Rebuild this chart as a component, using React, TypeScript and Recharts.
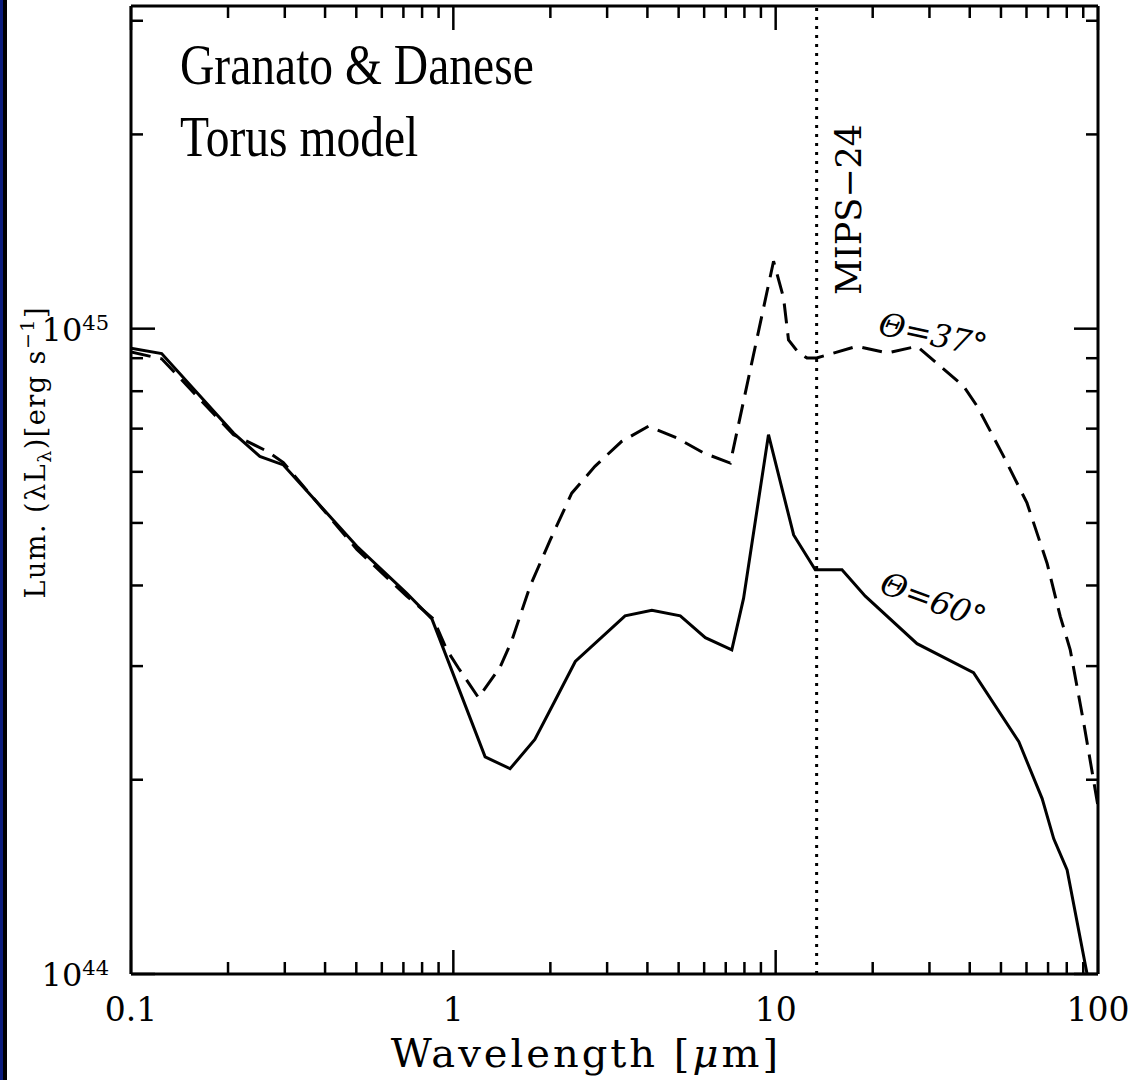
import React from 'react';
import { LineChart, Line, XAxis, YAxis, ReferenceLine, Label } from 'recharts';

// wavelength [micron] and luminosity (lambda L_lambda) in units of 1e44 erg/s
const wave60 = [0.1, 0.1245, 0.208, 0.251, 0.297, 0.502, 0.717, 0.858, 1.255, 1.5, 1.79, 2.05, 2.39, 3.41, 4.13, 5.06, 6.05, 7.31, 7.95, 9.5, 11.37, 13.27, 16.06, 18.97, 27.45, 41.1, 56.8, 67.1, 72.9, 80.2, 92.5];
const lum60 = [9.33, 9.15, 6.89, 6.34, 6.15, 4.6, 3.89, 3.55, 2.17, 2.08, 2.31, 2.63, 3.05, 3.59, 3.66, 3.59, 3.32, 3.18, 3.82, 6.85, 4.79, 4.23, 4.23, 3.85, 3.25, 2.93, 2.29, 1.87, 1.62, 1.45, 1.0];

const wave37 = [0.1, 0.1245, 0.208, 0.264, 0.297, 0.502, 0.717, 0.867, 0.954, 1.037, 1.197, 1.397, 1.52, 1.73, 2.0, 2.33, 2.75, 3.33, 4.03, 4.94, 5.97, 7.23, 9.85, 10.58, 10.96, 11.78, 12.5, 13.4, 17.88, 22.15, 27.45, 38.3, 42.2, 50.96, 60.2, 69.5, 76.4, 82.0, 90.3, 100];
const lum37 = [9.2, 8.98, 6.85, 6.46, 6.2, 4.55, 3.85, 3.55, 3.18, 2.98, 2.68, 2.99, 3.29, 3.99, 4.71, 5.56, 6.12, 6.69, 7.06, 6.77, 6.42, 6.19, 12.72, 11.16, 9.61, 9.17, 9.01, 9.01, 9.39, 9.17, 9.39, 8.14, 7.58, 6.34, 5.37, 4.33, 3.58, 3.18, 2.45, 1.82];

const xTicks = [0.1, 0.2, 0.3, 0.4, 0.5, 0.6, 0.7, 0.8, 0.9, 1, 2, 3, 4, 5, 6, 7, 8, 9, 10, 20, 30, 40, 50, 60, 70, 80, 90, 100];
const xMajor = [0.1, 1, 10, 100];
const xLabels = ['0.1', '1', '10', '100'];
const yTicks = [1, 2, 3, 4, 5, 6, 7, 8, 9, 10, 20, 30];
const yMajor = [1, 10];
const yExp = ['44', '45'];
const mipsWave = 13.4;

const pts60 = wave60.map((x, i) => ({ x, y: lum60[i] }));
const pts37 = wave37.map((x, i) => ({ x, y: lum37[i] }));

const serif = '"DejaVu Serif", serif';

const BottomTick = (p: any) => {
  const i = xMajor.indexOf(p.payload.value);
  if (i < 0) return <g />;
  return (
    <text x={p.x} y={p.y + 47} textAnchor="middle" fontFamily={serif} fontSize={33} fill="#000">
      {xLabels[i]}
    </text>
  );
};

// inward tick marks on the bottom and top frame, drawn at the reference line's x
const frameTickShape = (len: number) => (s: any) => {
  const top = Math.min(s.y1, s.y2);
  const bot = Math.max(s.y1, s.y2);
  return (
    <g>
      <line x1={s.x1} x2={s.x1} y1={bot} y2={bot - len} stroke="#000" strokeWidth={2.5} />
      <line x1={s.x1} x2={s.x1} y1={top} y2={top + len} stroke="#000" strokeWidth={2.5} />
    </g>
  );
};

const LeftTick = (p: any) => {
  const i = yMajor.indexOf(p.payload.value);
  return (
    <g>
      <line x1={p.x} x2={p.x + (i >= 0 ? 24 : 12)} y1={p.y} y2={p.y} stroke="#000" strokeWidth={2.5} />
      {i >= 0 && (
        <text x={p.x - 22} y={p.y + 12} textAnchor="end" fontFamily={serif} fontSize={32} fill="#000">
          10<tspan fontSize={21} dy={-11}>{yExp[i]}</tspan>
        </text>
      )}
    </g>
  );
};

const RightTick = (p: any) => {
  const major = yMajor.includes(p.payload.value);
  return <line x1={p.x} x2={p.x - (major ? 24 : 12)} y1={p.y} y2={p.y} stroke="#000" strokeWidth={2.5} />;
};

const frame = { stroke: '#000', strokeWidth: 3 };

export default function App() {
  return (
    <div style={{ position: 'absolute', left: 0, top: 0, width: 1131, height: 1080, background: '#fff', overflow: 'hidden' }}>
      <div style={{ position: 'absolute', left: 0, top: 0, width: 3, height: 1080, background: '#0b1c7c' }} />
      <div style={{ position: 'absolute', left: 3, top: 0, width: 4, height: 1080, background: '#000' }} />
      <LineChart width={1131} height={1080} margin={{ top: 0, right: 0, bottom: 0, left: 0 }}>
        <XAxis
          xAxisId="b" orientation="bottom" dataKey="x" type="number" scale="log" domain={[0.1, 100]}
          ticks={xTicks} interval={0} tick={<BottomTick />} tickLine={false} tickSize={0} tickMargin={0}
          axisLine={frame} height={106} allowDataOverflow
        >
          <Label
            content={(props: any) => {
              const vb = props.viewBox;
              return (
                <text x={vb.x + 650} y={vb.y + 93} textAnchor="end" fontFamily={serif} fontSize={40} letterSpacing={3} fill="#000">
                  Wavelength [<tspan fontStyle="italic">μ</tspan>m]
                </text>
              );
            }}
          />
        </XAxis>
        <XAxis
          xAxisId="t" orientation="top" dataKey="x" type="number" scale="log" domain={[0.1, 100]}
          tick={false} tickLine={false} axisLine={frame} height={6} allowDataOverflow
        />
        <YAxis
          yAxisId="l" orientation="left" type="number" scale="log" domain={[1, 31.623]}
          ticks={yTicks} interval={0} tick={<LeftTick />} tickLine={false} tickSize={0} tickMargin={0}
          axisLine={frame} width={131} allowDataOverflow
        >
          <Label
            content={() => (
              <text x={45} y={306} transform="rotate(-90 45 306)" textAnchor="end" fontFamily={serif} fontSize={27} letterSpacing={1.5} fill="#000">
                Lum. (λL<tspan fontSize={19} dy={6}>λ</tspan>
                <tspan dy={-6}>)[erg s</tspan>
                <tspan fontSize={19} dy={-11}>−1</tspan>
                <tspan dy={11}>]</tspan>
              </text>
            )}
          />
        </YAxis>
        <YAxis
          yAxisId="r" orientation="right" type="number" scale="log" domain={[1, 31.623]}
          ticks={yTicks} interval={0} tick={<RightTick />} tickLine={false} tickSize={0} tickMargin={0}
          axisLine={frame} width={33} allowDataOverflow
        />
        {xTicks.map((v) => (
          <ReferenceLine
            key={`xt-${v}`} xAxisId="b" yAxisId="l" x={v} stroke="#000"
            shape={frameTickShape(xMajor.includes(v) ? 24 : 12)}
          />
        ))}
        <ReferenceLine
          xAxisId="b" yAxisId="l" x={mipsWave} stroke="#000" strokeWidth={3} strokeDasharray="3 6"
          label={(props: any) => {
            const vb = props.viewBox;
            return (
              <text x={vb.x + 44} y={vb.y + 289} transform={`rotate(-90 ${vb.x + 44} ${vb.y + 289})`} fontFamily={serif} fontSize={35} fill="#000">
                MIPS−24
              </text>
            );
          }}
        />
        <Line
          xAxisId="b" yAxisId="l" data={pts37} dataKey="y" type="linear" stroke="#000" strokeWidth={3}
          strokeDasharray="20 10" dot={false} isAnimationActive={false}
        />
        <Line
          xAxisId="b" yAxisId="l" data={pts60} dataKey="y" type="linear" stroke="#000" strokeWidth={3}
          dot={false} isAnimationActive={false}
        />
      </LineChart>
      <svg width={1131} height={1080} style={{ position: 'absolute', left: 0, top: 0, pointerEvents: 'none' }}>
        <g transform="translate(180 0) scale(0.82 1)">
          <text fontFamily='"Liberation Serif", "Times New Roman", serif' fontSize={58} fill="#000">
            <tspan x={0} y={84}>Granato &amp; Danese</tspan>
            <tspan x={0} y={156}>Torus model</tspan>
          </text>
        </g>
        <text x={877} y={334} transform="rotate(12 877 334)" fontFamily={serif} fontStyle="italic" fontSize={32} fill="#000">
          Θ=37°
        </text>
        <text x={878} y={592} transform="rotate(20 878 592)" fontFamily={serif} fontStyle="italic" fontSize={32} fill="#000">
          Θ=60°
        </text>
      </svg>
    </div>
  );
}
